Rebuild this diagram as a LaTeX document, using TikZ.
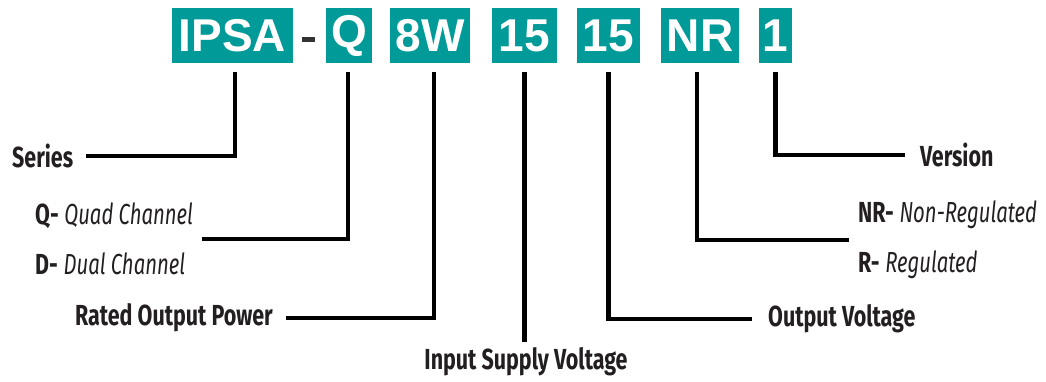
\documentclass[tikz,border=0pt]{standalone}
\usepackage{fontspec}
\setmainfont{Liberation Sans}
\newfontfamily\lblfont[FakeStretch=0.74,ItalicFeatures={FakeStretch=0.70}]{Fira Sans}
\definecolor{teal1}{HTML}{009A98}
\definecolor{txt}{HTML}{231F20}
\definecolor{dashgray}{HTML}{333333}
\begin{document}
\begin{tikzpicture}[x=1pt,y=-1pt,
  codebox/.style={fill=teal1,text=white,inner sep=0pt,minimum height=55pt,
    font=\fontsize{46}{46}\selectfont\bfseries},
  lbl/.style={text=txt,inner sep=0pt,font=\lblfont\fontsize{29}{29}\selectfont\bfseries},
  grp/.style={text=txt,inner xsep=9pt,inner ysep=0pt,align=left,
    font=\lblfont\fontsize{29}{50}\selectfont},
  conn/.style={line width=4.5pt,black},
]
\useasboundingbox (0,0) rectangle (1046,381);
% code boxes
\node[codebox,minimum width=121pt] (ipsa) at (232.5,35.5) {IPSA};
\node[fill=dashgray,inner sep=0pt,minimum width=13pt,minimum height=5pt] (dash) at (308.5,39.5) {};
\node[codebox,minimum width=46pt] (q) at (349,35.5) {Q};
\node[codebox,minimum width=80pt] (w8) at (430,35.5) {8W};
\node[codebox,minimum width=65pt] (vin) at (524.5,35.5) {15};
\node[codebox,minimum width=63pt] (vout) at (608.5,35.5) {15};
\node[codebox,minimum width=78pt] (nr) at (700,35.5) {NR};
\node[codebox,minimum width=33pt] (ver) at (775.5,35.5) {1};
% labels
\node[lbl,anchor=west] (series) at (12,156) {Series};
\node[grp,anchor=west] (qd) at (26,239) {\textbf{Q-} \textit{Quad Channel}\\\textbf{D-} \textit{Dual Channel}};
\node[lbl,anchor=west] (rop) at (75,318) {Rated Output Power};
\node[lbl] (isv) at (526,362) {Input Supply Voltage};
\node[lbl,anchor=west] (ov) at (768,319) {Output Voltage};
\node[grp,anchor=west] (nrr) at (849,240) {\textbf{NR-} \textit{Non-Regulated}\\\textbf{R-} \textit{Regulated}};
\node[lbl,anchor=west] (version) at (920,155) {Version};
% connectors
\draw[conn,shorten <=9pt,shorten >=13pt] ([xshift=2.5pt]ipsa.south) |- (series.east);
\draw[conn,shorten <=9pt] ([xshift=-1pt]q.south) |- (qd.east);
\draw[conn,shorten <=9pt,shorten >=13pt] ([xshift=4pt]w8.south) |- (rop.east);
\draw[conn,shorten <=9pt,shorten >=6pt] (vin.south) -- (isv.north -| vin.south);
\draw[conn,shorten <=9pt,shorten >=16pt] (vout.south) |- (ov.west);
\draw[conn,shorten <=9pt] ([xshift=-3pt]nr.south) |- (nrr.west);
\draw[conn,shorten <=9pt,shorten >=15pt] (ver.south) |- (version.west);
\end{tikzpicture}
\end{document}
